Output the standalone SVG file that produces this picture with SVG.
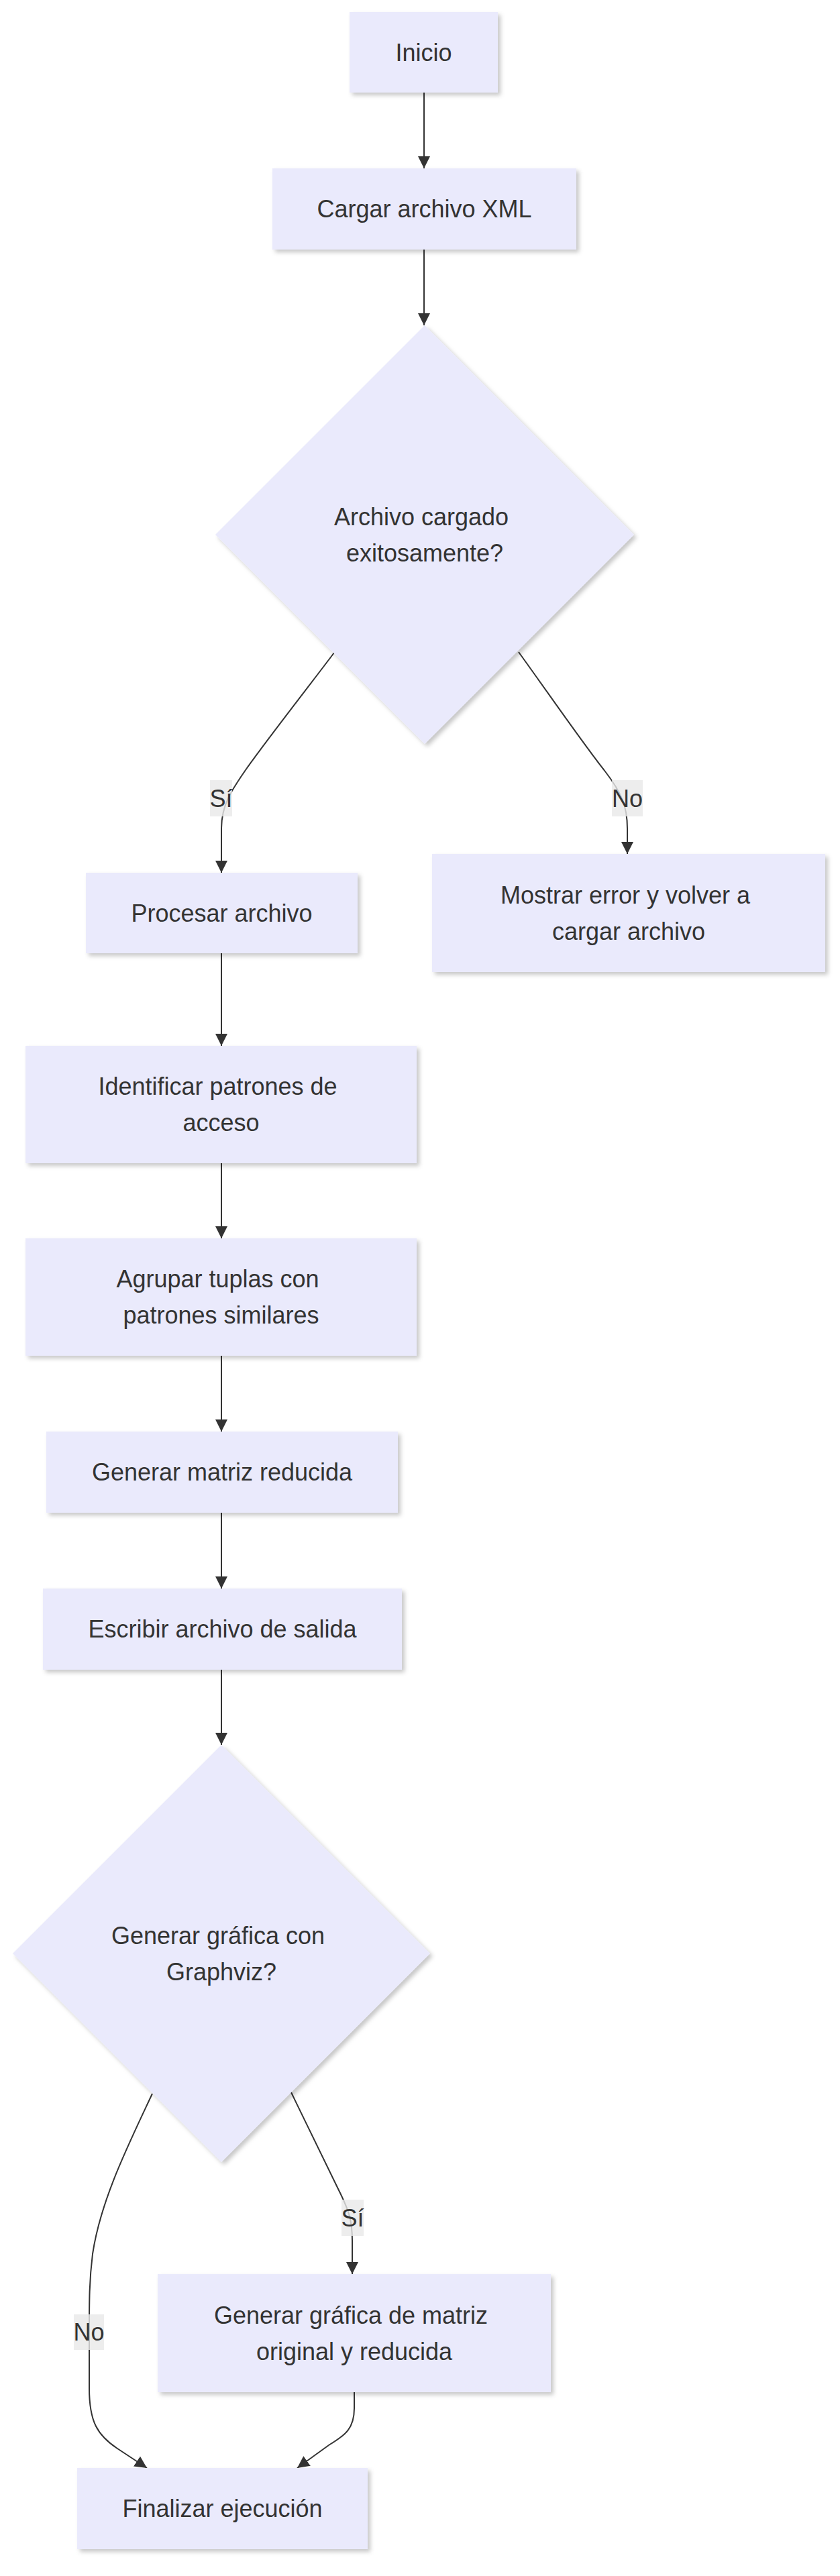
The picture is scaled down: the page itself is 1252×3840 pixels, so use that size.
<svg xmlns="http://www.w3.org/2000/svg" width="1252" height="3840" viewBox="0 0 1252 3840">
<defs>
<style>
.node{fill:#EAEAFC;stroke:none;filter:url(#sh);}
.t{font-family:"Liberation Sans",Arial,sans-serif;font-size:36px;fill:#333;text-anchor:middle;}
.e{fill:none;stroke:#333;stroke-width:2;marker-end:url(#arr);}
.lb{fill:#E8E8E8;fill-opacity:0.8;}
</style>
<filter id="sh" x="-10%" y="-10%" width="130%" height="130%">
<feDropShadow dx="4" dy="4" stdDeviation="3" flood-color="#000" flood-opacity="0.22"/>
</filter>
<marker id="arr" viewBox="0 0 10 10" refX="10" refY="5" markerUnits="userSpaceOnUse" markerWidth="18" markerHeight="18" orient="auto">
<path d="M0,0 L10,5 L0,10 z" fill="#333"/>
</marker>
</defs>
<rect width="1252" height="3840" fill="#fff"/>
<g id="connectors">
<path class="e" d="M632,138 L632,251"/>
<path class="e" d="M632,372 L632,485"/>
<path class="e" d="M498,973 C455,1030 400,1100 368,1145 C345,1178 330,1200 330,1235 L330,1301"/>
<path class="e" d="M773,972 C815,1030 870,1110 902,1150 C925,1180 935,1200 935,1235 L935,1273"/>
<path class="e" d="M330,1421 L330,1559"/>
<path class="e" d="M330,1734 L330,1846"/>
<path class="e" d="M330,2021 L330,2134"/>
<path class="e" d="M330,2255 L330,2368"/>
<path class="e" d="M330,2489 L330,2601"/>
<path class="e" d="M227,3121 C190,3200 150,3280 138,3360 C133,3400 133,3430 133,3476 L133,3560 C133,3610 145,3630 175,3650 L219,3679"/>
<path class="e" d="M434,3119 C460,3173 488,3230 505,3265 C520,3295 525,3310 525,3340 L525,3390"/>
<path class="e" d="M528,3566 L528,3590 C528,3620 515,3630 490,3645 L443,3679"/>
</g>
<g id="edge-labels">
<g id="lbl-si-1"><rect class="lb" x="313" y="1163" width="33" height="54"/><text class="t" x="329.5" y="1202.5">Sí</text></g>
<g id="lbl-no-1"><rect class="lb" x="912" y="1163" width="46" height="54"/><text class="t" x="935" y="1202.5">No</text></g>
<g id="lbl-si-2"><rect class="lb" x="509" y="3279" width="33" height="54"/><text class="t" x="525.5" y="3318.5">Sí</text></g>
<g id="lbl-no-2"><rect class="lb" x="110" y="3450" width="45" height="53"/><text class="t" x="132.5" y="3489">No</text></g>
</g>
<g id="inicio"><rect class="node" x="521" y="18" width="221" height="120"/><text class="t" x="631.5" y="90.5">Inicio</text></g>
<g id="cargar"><rect class="node" x="406" y="251" width="453" height="121"/><text class="t" x="632.5" y="324">Cargar archivo XML</text></g>
<g id="decision1"><polygon class="node" points="633,485 945,797 633,1109 321,797"/><text class="t" x="628" y="782.5">Archivo cargado</text><text class="t" x="633" y="836.5">exitosamente?</text></g>
<g id="procesar"><rect class="node" x="128" y="1301" width="405" height="120"/><text class="t" x="330.5" y="1373.5">Procesar archivo</text></g>
<g id="mostrar"><rect class="node" x="644" y="1273" width="586" height="176"/><text class="t" x="932" y="1346.5">Mostrar error y volver a</text><text class="t" x="937" y="1400.5">cargar archivo</text></g>
<g id="identificar"><rect class="node" x="38" y="1559" width="583" height="175"/><text class="t" x="324.5" y="1632">Identificar patrones de</text><text class="t" x="329.5" y="1686">acceso</text></g>
<g id="agrupar"><rect class="node" x="38" y="1846" width="583" height="175"/><text class="t" x="324.5" y="1919">Agrupar tuplas con</text><text class="t" x="329.5" y="1973">patrones similares</text></g>
<g id="generar-matriz"><rect class="node" x="69" y="2134" width="524" height="121"/><text class="t" x="331" y="2207">Generar matriz reducida</text></g>
<g id="escribir"><rect class="node" x="64" y="2368" width="535" height="121"/><text class="t" x="331.5" y="2441">Escribir archivo de salida</text></g>
<g id="decision2"><polygon class="node" points="330,2601 641,2912 330,3223 19,2912"/><text class="t" x="325" y="2897.5">Generar gráfica con</text><text class="t" x="330" y="2951.5">Graphviz?</text></g>
<g id="generar-grafica"><rect class="node" x="235" y="3390" width="586" height="176"/><text class="t" x="523" y="3463.5">Generar gráfica de matriz</text><text class="t" x="528" y="3517.5">original y reducida</text></g>
<g id="finalizar"><rect class="node" x="115" y="3679" width="433" height="121"/><text class="t" x="331.5" y="3752">Finalizar ejecución</text></g>
</svg>
